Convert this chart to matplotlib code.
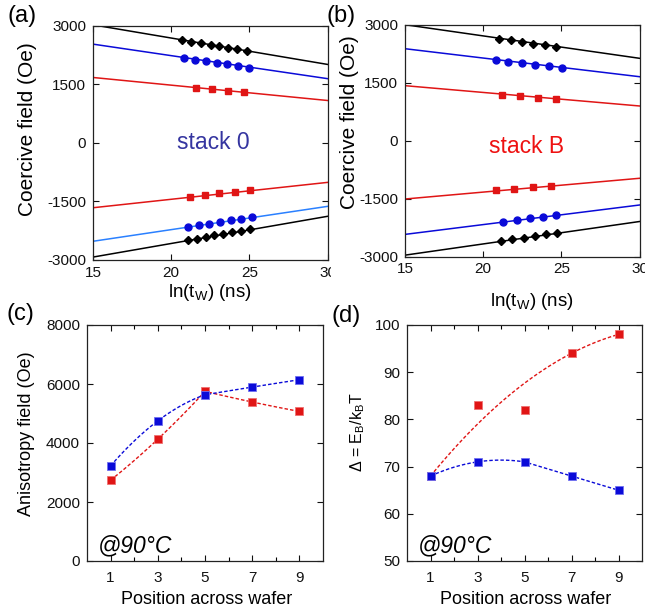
import numpy as np
import matplotlib
matplotlib.use("Agg")
import matplotlib.pyplot as plt
from matplotlib.patches import Rectangle

plt.rcParams['font.family'] = ['Liberation Sans', 'DejaVu Sans']
plt.rcParams['mathtext.fontset'] = 'custom'
plt.rcParams['mathtext.rm'] = 'Liberation Sans'
plt.rcParams['mathtext.it'] = 'Liberation Sans:italic'
plt.rcParams['mathtext.bf'] = 'Liberation Sans:bold'
plt.rcParams['axes.unicode_minus'] = False

# ---------------- data ----------------
# Panel (a) stack 0 : fitted lines (value at ln(tw)=15 and 30) and measured points
line_x = [15, 30]
a_black_top_line = [3030, 2015]
a_blue_top_line = [2535, 1650]
a_red_top_line = [1680, 1090]
a_red_bot_line = [-1660, -1010]
a_blue_bot_line = [-2520, -1625]
a_black_bot_line = [-2925, -1880]

a_black_top_x = [20.72, 21.28, 21.91, 22.53, 23.08, 23.64, 24.21, 24.84]
a_black_top_y = [2638, 2598, 2556, 2513, 2478, 2441, 2401, 2358]
a_blue_top_x = [20.85, 21.53, 22.23, 22.91, 23.57, 24.29, 24.99]
a_blue_top_y = [2186, 2135, 2094, 2058, 2018, 1982, 1931]
a_red_top_x = [21.61, 22.61, 23.63, 24.64]
a_red_top_y = [1408, 1375, 1332, 1298]
a_red_bot_x = [21.19, 22.19, 23.09, 24.10, 25.06]
a_red_bot_y = [-1393, -1342, -1291, -1255, -1215]
a_blue_bot_x = [21.08, 21.75, 22.45, 23.14, 23.80, 24.46, 25.17]
a_blue_bot_y = [-2150, -2108, -2065, -2022, -1985, -1948, -1905]
a_black_bot_x = [21.10, 21.68, 22.23, 22.76, 23.33, 23.89, 24.44, 25.02]
a_black_bot_y = [-2495, -2452, -2410, -2366, -2322, -2281, -2245, -2210]

# Panel (b) stack B
b_black_top_line = [3000, 2131]
b_blue_top_line = [2379, 1655]
b_red_top_line = [1423, 898]
b_red_bot_line = [-1508, -972]
b_blue_bot_line = [-2423, -1663]
b_black_bot_line = [-2960, -2090]

b_black_top_x = [21.01, 21.76, 22.49, 23.21, 23.94, 24.64]
b_black_top_y = [2637, 2594, 2551, 2510, 2467, 2427]
b_blue_top_x = [20.80, 21.61, 22.49, 23.32, 24.21, 25.04]
b_blue_top_y = [2084, 2045, 2002, 1962, 1919, 1879]
b_red_top_x = [21.21, 22.36, 23.49, 24.66]
b_red_top_y = [1191, 1150, 1111, 1070]
b_red_bot_x = [20.83, 22.00, 23.18, 24.34]
b_red_bot_y = [-1285, -1243, -1201, -1160]
b_blue_bot_x = [21.28, 22.14, 22.99, 23.82, 24.66]
b_blue_bot_y = [-2090, -2046, -2003, -1961, -1918]
b_black_bot_x = [21.15, 21.86, 22.59, 23.31, 24.00, 24.70]
b_black_bot_y = [-2588, -2547, -2505, -2463, -2423, -2382]

# Panels (c), (d)
position = [1, 3, 5, 7, 9]
hk_red = [2740, 4130, 5750, 5390, 5070]
hk_blue = [3225, 4750, 5635, 5895, 6145]
delta_red = [68, 83, 82, 94, 98]
delta_blue = [68, 71, 71, 68, 65]

RED = '#e01515'
BLUE = '#0a0ad8'
LBLUE = '#2a80ff'
BLACK = '#000000'

FW, FH = 645, 608
fig = plt.figure(figsize=(FW / 100, FH / 100), dpi=100)


def ax_px(l, t, r, b):
    return fig.add_axes([l / FW, 1 - b / FH, (r - l) / FW, (b - t) / FH])


def style(ax, pad_x, pad_y):
    ax.tick_params(direction='in', top=True, right=True, length=4, width=0.8,
                   labelsize=11, colors='#111111')
    ax.tick_params(axis='x', pad=pad_x)
    ax.tick_params(axis='y', pad=pad_y)
    ax.tick_params(which='minor', direction='in', top=True, right=True, length=3, width=0.8)
    for s in ax.spines.values():
        s.set_color('#222222')
        s.set_linewidth(0.9)


def guide(x, y, idx_sets, deg):
    """smooth dashed guide through groups of points"""
    xs_all, ys_all = [], []
    for idx in idx_sets:
        xx = np.array(x)[idx]
        yy = np.array(y)[idx]
        c = np.polyfit(xx, yy, deg)
        xs = np.linspace(xx.min(), xx.max(), 60)
        xs_all.append(xs)
        ys_all.append(np.polyval(c, xs))
    return np.concatenate(xs_all), np.concatenate(ys_all)


def panel_ab(ax, lines, pts, text, tcolor, txy):
    for yl, c in lines:
        ax.plot(line_x, yl, color=c, lw=1.1, zorder=2)
    for (px, py, c, m, ms) in pts:
        ax.plot(px, py, ls='none', marker=m, color=c, ms=ms, mec=c, zorder=3)
    ax.set_xlim(15, 30)
    ax.set_ylim(-3000, 3000)
    ax.set_xticks([15, 20, 25, 30])
    ax.set_yticks([-3000, -1500, 0, 1500, 3000])
    ax.text(txy[0], txy[1], text, color=tcolor, fontsize=16.5, ha='center', va='center')


# (a)
axa = ax_px(93, 26, 327.5, 260)
panel_ab(axa,
         [(a_black_top_line, BLACK), (a_blue_top_line, BLUE), (a_red_top_line, RED),
          (a_red_bot_line, RED), (a_blue_bot_line, LBLUE), (a_black_bot_line, BLACK)],
         [(a_black_top_x, a_black_top_y, BLACK, 'D', 4.3),
          (a_blue_top_x, a_blue_top_y, BLUE, 'o', 5),
          (a_red_top_x, a_red_top_y, RED, 's', 4.8),
          (a_red_bot_x, a_red_bot_y, RED, 's', 4.8),
          (a_blue_bot_x, a_blue_bot_y, BLUE, 'o', 5),
          (a_black_bot_x, a_black_bot_y, BLACK, 'D', 4.3)],
         'stack 0', '#3535a0', (22.7, 0))
style(axa, 4, 5)
axa.set_xlabel(r'ln(t$_\mathrm{W}$) (ns)', fontsize=13.5)
axa.set_ylabel('Coercive field (Oe)', fontsize=15)
axa.xaxis.set_label_coords(0.5, -0.095)
axa.yaxis.set_label_coords(-0.24, 0.56)

# white mask (panel (b) image overlaps the "30" of panel (a))
fig.patches.append(Rectangle((331 / FW, 1 - 300 / FH), (FW - 331) / FW, 300 / FH,
                             transform=fig.transFigure, facecolor='white',
                             edgecolor='none', zorder=1))
axa.set_zorder(0)

# (b)
axb = ax_px(405, 24.7, 639.5, 256.7)
axb.set_zorder(2)
panel_ab(axb,
         [(b_black_top_line, BLACK), (b_blue_top_line, BLUE), (b_red_top_line, RED),
          (b_red_bot_line, RED), (b_blue_bot_line, BLUE), (b_black_bot_line, BLACK)],
         [(b_black_top_x, b_black_top_y, BLACK, 'D', 4.3),
          (b_blue_top_x, b_blue_top_y, BLUE, 'o', 5),
          (b_red_top_x, b_red_top_y, RED, 's', 4.8),
          (b_red_bot_x, b_red_bot_y, RED, 's', 4.8),
          (b_blue_bot_x, b_blue_bot_y, BLUE, 'o', 5),
          (b_black_bot_x, b_black_bot_y, BLACK, 'D', 4.3)],
         'stack B', '#ee1111', (22.75, -150))
style(axb, 4, 5)
axb.set_xlabel(r'ln(t$_\mathrm{W}$) (ns)', fontsize=13.5)
axb.set_ylabel('Coercive field (Oe)', fontsize=15)
axb.xaxis.set_label_coords(0.543, -0.15)
axb.yaxis.set_label_coords(-0.198, 0.578)

# (c)
axc = ax_px(87, 325, 323, 561)
gx, gy = guide(position, hk_red, [[0, 1, 2], [2, 3, 4]], 2)
axc.plot(gx, gy, ls=(0, (2.5, 1.5)), color=RED, lw=1.0, zorder=2)
gx, gy = guide(position, hk_blue, [[0, 1, 2], [2, 3, 4]], 2)
axc.plot(gx, gy, ls=(0, (2.5, 1.5)), color=BLUE, lw=1.0, zorder=2)
axc.plot(position, hk_red, ls='none', marker='s', color=RED, ms=6, mec='#f07070', mew=0.6, zorder=3)
axc.plot(position, hk_blue, ls='none', marker='s', color=BLUE, ms=6, mec='#7070f0', mew=0.6, zorder=4)
axc.set_xlim(0, 10)
axc.set_ylim(0, 8000)
axc.set_xticks(position)
axc.set_xticks([2, 4, 6, 8], minor=True)
axc.set_yticks([0, 2000, 4000, 6000, 8000])
style(axc, 7, 5)
axc.set_xlabel('Position across wafer', fontsize=13)
axc.set_ylabel('Anisotropy field (Oe)', fontsize=13)
axc.xaxis.set_label_coords(0.507, -0.125)
axc.yaxis.set_label_coords(-0.22, 0.538)
axc.text(0.045, 0.035, '@90°C', transform=axc.transAxes, fontsize=16.5,
         style='italic', ha='left', va='baseline')

# (d)
axd = ax_px(407, 325, 642, 561)
gx, gy = guide(position, delta_red, [[0, 3, 4]], 2)
axd.plot(gx, gy, ls=(0, (2.5, 1.5)), color=RED, lw=1.0, zorder=2)
gx, gy = guide(position, delta_blue, [[0, 1, 2], [2, 3, 4]], 2)
axd.plot(gx, gy, ls=(0, (2.5, 1.5)), color=BLUE, lw=1.0, zorder=2)
axd.plot(position, delta_red, ls='none', marker='s', color=RED, ms=6, mec='#f07070', mew=0.6, zorder=3)
axd.plot(position, delta_blue, ls='none', marker='s', color=BLUE, ms=6, mec='#7070f0', mew=0.6, zorder=4)
axd.set_xlim(0, 10)
axd.set_ylim(50, 100)
axd.set_xticks(position)
axd.set_xticks([2, 4, 6, 8], minor=True)
axd.set_yticks([50, 60, 70, 80, 90, 100])
style(axd, 7, 5)
axd.set_xlabel('Position across wafer', fontsize=13)
axd.set_ylabel(r'Δ = E$_\mathrm{B}$/k$_\mathrm{B}$T', fontsize=11.5)
axd.xaxis.set_label_coords(0.506, -0.125)
axd.yaxis.set_label_coords(-0.17, 0.547)
axd.text(0.045, 0.035, '@90°C', transform=axd.transAxes, fontsize=16.5,
         style='italic', ha='left', va='baseline')

# panel letters
for lab, (x, y) in {'(a)': (22, 16), '(b)': (341, 16), '(c)': (20, 314), '(d)': (346, 316)}.items():
    fig.text(x / FW, 1 - y / FH, lab, fontsize=17, ha='center', va='center', zorder=5)

fig.savefig('out.png', dpi=100, facecolor='white')
